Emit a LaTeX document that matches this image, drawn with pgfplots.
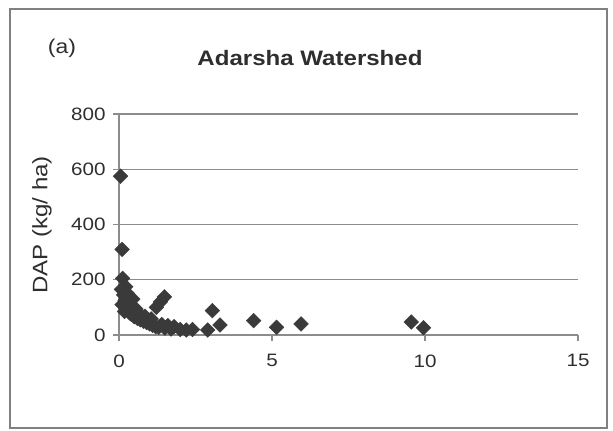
\documentclass[border=0pt]{standalone}
\usepackage{pgfplots}
\pgfplotsset{compat=1.18}
\usepackage{fontspec}
\setmainfont[FakeStretch=1.15]{Liberation Sans}
\definecolor{gridgray}{HTML}{8C8C8C}
\definecolor{markgray}{HTML}{3A3A3A}
\definecolor{txtgray}{HTML}{2E2E2E}
\definecolor{framegray}{HTML}{808080}
\pgfplotstableread{
x y
0.05 575
0.10 310
0.12 205
0.08 165
0.15 145
0.20 125
0.10 110
0.25 100
0.30 92
0.18 85
0.35 80
0.28 150
0.22 175
0.40 75
0.45 130
0.38 110
0.50 66
0.55 95
0.60 60
0.65 80
0.70 55
0.80 50
0.85 68
0.90 45
1.00 40
1.05 58
1.10 35
1.20 30
1.30 28
1.40 38
1.50 25
1.60 34
1.70 22
1.80 30
2.00 20
2.20 18
2.40 20
1.22 100
1.35 120
1.48 138
2.90 18
3.05 88
3.30 36
4.40 52
5.15 28
5.95 40
9.55 47
9.95 26
}\datatable
\begin{document}
\begin{tikzpicture}[x=1bp,y=1bp]
\path (0,0) rectangle (613,430);
\draw[framegray, line width=2bp] (10,2) rectangle (607,421);
\begin{axis}[
  at={(119bp,95bp)}, anchor=origin,
  width=459bp, height=221bp, scale only axis,
  xmin=0, xmax=15, ymin=0, ymax=800,
  xtick={0,5,10,15}, ytick={0,200,400,600,800},
  axis x line*=bottom, axis y line*=left,
  axis line style={gridgray, line width=1.3bp, -},
  tick style={gridgray, line width=1.3bp},
  major tick length=6bp,
  tick align=outside,
  ymajorgrids,
  grid style={gridgray, line width=1.3bp},
  /pgf/number format/assume math mode=true,
  tick label style={font=\fontsize{18}{20}\selectfont, text=txtgray},
  xticklabel style={yshift=-10bp},
  yticklabel style={xshift=-4bp},
  clip=false,
]
\addplot[only marks, mark=square*, mark size=5.2bp,
  mark options={rotate=45, fill=markgray, draw=markgray}, color=markgray]
  table[x=x, y=y] {\datatable};
\end{axis}
\node[font=\fontsize{21}{24}\selectfont\bfseries, text=txtgray] at (310,372) {Adarsha Watershed};
\node[font=\fontsize{20}{24}\selectfont, text=txtgray] at (62,382) {(a)};
\node[rotate=90, font=\fontsize{21}{24}\selectfont, text=txtgray] at (42,205) {DAP (kg/ ha)};
\end{tikzpicture}
\end{document}
